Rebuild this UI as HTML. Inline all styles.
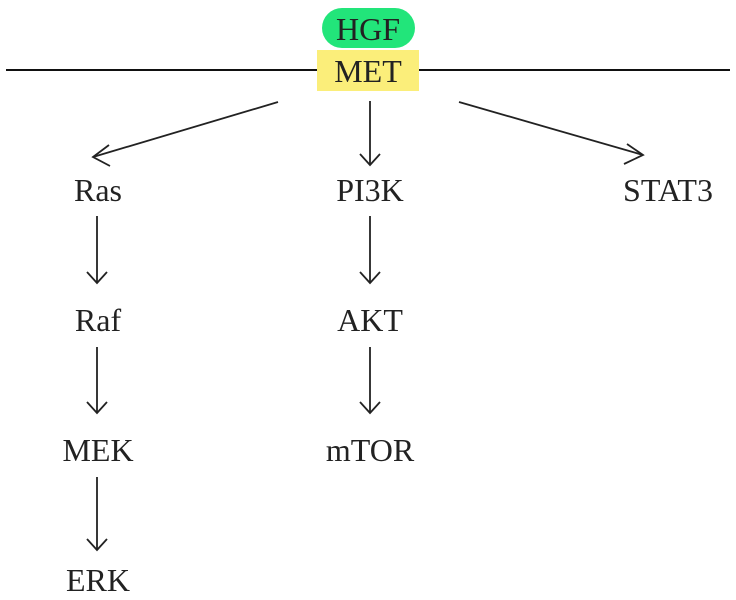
<!DOCTYPE html>
<html><head><style>
html,body{margin:0;padding:0;background:#fff;}
svg{display:block;}
text{font-family:"Liberation Serif",serif;font-size:32px;fill:#222;}
</style></head><body>
<svg width="736" height="600" viewBox="0 0 736 600">
<line x1="6" y1="70" x2="730" y2="70" stroke="#111" stroke-width="2"/>
<rect x="322" y="8" width="93" height="40" rx="20" fill="#22e57a"/>
<rect x="317" y="50" width="102" height="41" fill="#fbee7a"/>
<text x="368" y="40" text-anchor="middle">HGF</text>
<text x="368" y="82" text-anchor="middle">MET</text>
<g stroke="#222" stroke-width="1.8" fill="none">
<line x1="278" y1="102" x2="93" y2="157"/><polyline points="109,145 93,157 110,166"/>
<line x1="459" y1="102" x2="643" y2="155"/><polyline points="627,144 643,155 624,164"/>
<line x1="370" y1="101" x2="370" y2="165"/><polyline points="360,154 370,165 380,154"/>
<line x1="97" y1="216" x2="97" y2="283"/><polyline points="87,272 97,283 107,272"/>
<line x1="97" y1="347" x2="97" y2="413"/><polyline points="87,402 97,413 107,402"/>
<line x1="97" y1="477" x2="97" y2="550"/><polyline points="87,539 97,550 107,539"/>
<line x1="370" y1="216" x2="370" y2="283"/><polyline points="360,272 370,283 380,272"/>
<line x1="370" y1="347" x2="370" y2="413"/><polyline points="360,402 370,413 380,402"/>
</g>
<text x="98" y="201" text-anchor="middle">Ras</text>
<text x="98" y="331" text-anchor="middle">Raf</text>
<text x="98" y="461" text-anchor="middle">MEK</text>
<text x="98" y="591" text-anchor="middle">ERK</text>
<text x="370" y="201" text-anchor="middle">PI3K</text>
<text x="370" y="331" text-anchor="middle">AKT</text>
<text x="370" y="461" text-anchor="middle">mTOR</text>
<text x="668" y="201" text-anchor="middle">STAT3</text>
</svg>
</body></html>
